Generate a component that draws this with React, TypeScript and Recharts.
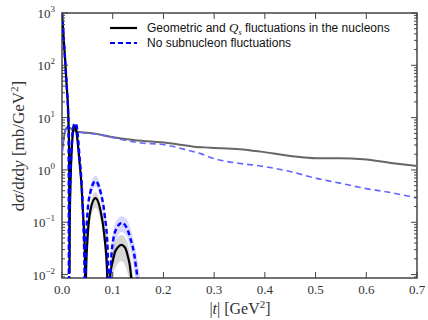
import React from 'react';
import { ComposedChart, Line, Area, XAxis, YAxis, ReferenceArea, Label } from 'recharts';

// ---- data ----
// coherent, geometric + Qs fluctuations (black solid)
const tCohGeo = [0, 0.002, 0.004, 0.006, 0.008, 0.010, 0.012, 0.013, 0.014, 0.0148, 0.0152, 0.0167, 0.0197, 0.023, 0.0252, 0.0275, 0.0295, 0.0345, 0.0384, 0.042, 0.045, 0.0465, 0.0475, 0.0506, 0.056, 0.0659, 0.0758, 0.0837, 0.089, 0.0905, 0.091, 0.0945, 0.1, 0.104, 0.11, 0.117, 0.124, 0.13, 0.135, 0.138, 0.14];
const vCohGeo = [1000, 510, 257, 133, 63, 31, 15, 7.2, 2.4, 0.011, 0.08, 0.52, 3.0, 6.3, 7.0, 6.2, 4.5, 1.44, 0.52, 0.12, 0.025, 0.003, 0.011, 0.053, 0.17, 0.29, 0.17, 0.053, 0.011, 0.002, 0.001, 0.009, 0.018, 0.026, 0.033, 0.037, 0.033, 0.022, 0.012, 0.005, 0.001];

// coherent, no subnucleon fluctuations (blue dashed)
const tCohNo = [0, 0.002, 0.004, 0.006, 0.008, 0.010, 0.012, 0.013, 0.0138, 0.0145, 0.0155, 0.0167, 0.0197, 0.023, 0.0266, 0.03, 0.0345, 0.0384, 0.042, 0.0445, 0.0452, 0.0465, 0.05, 0.056, 0.066, 0.076, 0.084, 0.09, 0.0925, 0.0935, 0.0955, 0.1, 0.1087, 0.1185, 0.127, 0.1349, 0.1447, 0.15, 0.152];
const vCohNo = [1000, 520, 262, 136, 65, 32, 13, 4, 0.001, 0.05, 0.3, 0.8, 3.8, 7.0, 7.8, 6.0, 1.8, 0.6, 0.1, 0.01, 0.001, 0.02, 0.14, 0.38, 0.61, 0.38, 0.14, 0.03, 0.001, 0.001, 0.01, 0.04, 0.08, 0.098, 0.08, 0.049, 0.017, 0.005, 0.001];

// incoherent, geometric + Qs fluctuations (gray solid)
const tIncGeo = [0, 0.004, 0.007, 0.011, 0.02, 0.03, 0.0626, 0.0955, 0.128, 0.161, 0.194, 0.227, 0.26, 0.292, 0.351, 0.391, 0.45, 0.502, 0.548, 0.594, 0.653, 0.70];
const vIncGeo = [2.1, 4.3, 5.8, 6.6, 6.0, 5.4, 5.0, 4.33, 3.86, 3.58, 3.38, 3.1, 2.79, 2.67, 2.49, 2.24, 1.85, 1.67, 1.67, 1.60, 1.34, 1.19];

// incoherent, no subnucleon fluctuations (light blue dashed)
const tIncNo = [0, 0.004, 0.009, 0.015, 0.025, 0.036, 0.063, 0.09, 0.115, 0.161, 0.194, 0.22, 0.247, 0.273, 0.3, 0.325, 0.351, 0.391, 0.45, 0.502, 0.548, 0.594, 0.647, 0.70];
const vIncNo = [2.1, 4.5, 6.2, 6.0, 5.6, 5.2, 4.9, 4.4, 3.86, 3.24, 3.1, 2.8, 2.4, 2.05, 1.65, 1.45, 1.33, 1.19, 0.93, 0.69, 0.56, 0.45, 0.37, 0.29];

// uncertainty bands
const tBandGeo = [0.047, 0.05, 0.056, 0.066, 0.076, 0.084, 0.089, 0.091, 0.092, 0.096, 0.1, 0.106, 0.117, 0.128, 0.134, 0.14, 0.144];
const lowBandGeo = [0.001, 0.03, 0.11, 0.19, 0.11, 0.03, 0.004, 0.001, 0.001, 0.004, 0.009, 0.014, 0.018, 0.012, 0.006, 0.002, 0.001];
const highBandGeo = [0.01, 0.08, 0.22, 0.38, 0.22, 0.08, 0.02, 0.003, 0.004, 0.015, 0.028, 0.044, 0.057, 0.044, 0.025, 0.009, 0.002];

const tBandNo = [0.044, 0.047, 0.05, 0.056, 0.066, 0.076, 0.084, 0.09, 0.094, 0.092, 0.096, 0.1, 0.108, 0.118, 0.127, 0.135, 0.145, 0.152, 0.158];
const lowBandNo = [0.001, 0.005, 0.08, 0.28, 0.48, 0.28, 0.08, 0.01, 0.001, 0.001, 0.004, 0.015, 0.05, 0.065, 0.055, 0.03, 0.008, 0.002, 0.001];
const highBandNo = [0.01, 0.08, 0.2, 0.5, 0.78, 0.5, 0.2, 0.06, 0.005, 0.005, 0.025, 0.06, 0.11, 0.13, 0.115, 0.075, 0.03, 0.012, 0.004];

const xTicks = [0, 0.1, 0.2, 0.3, 0.4, 0.5, 0.6, 0.7];
const xTickLabels = ['0.0', '0.1', '0.2', '0.3', '0.4', '0.5', '0.6', '0.7'];
const yMajor = [0.01, 0.1, 1, 10, 100, 1000];
const yExp = ['\u22122', '\u22121', '0', '1', '2', '3'];
const yMinorMult = [2, 3, 4, 5, 6, 7, 8, 9];
const yMinorDecades = [0.001, 0.01, 0.1, 1, 10, 100];

const Y_MIN = 0.0086;
const Y_MAX = 1000;

const legendLabels = ['Geometric and ', 'No subnucleon fluctuations'];

// ---- layout ----
const W = 428, H = 320;
const PL = 62, PR = 417, PT = 13, PB = 278;
const AXIS = '#444';
const SERIF = '"Liberation Serif", "DejaVu Serif", serif';
const SANS = '"Liberation Sans", Arial, sans-serif';

const pts = (ts: number[], vs: number[]) => ts.map((t, i) => ({ t, v: vs[i] }));
const band = (ts: number[], lo: number[], hi: number[]) => ts.map((t, i) => ({ t, r: [lo[i], hi[i]] }));

const cohGeo = pts(tCohGeo, vCohGeo);
const cohNo = pts(tCohNo, vCohNo);
const incGeo = pts(tIncGeo, vIncGeo);
const incNo = pts(tIncNo, vIncNo);
const bandGeo = band(tBandGeo, lowBandGeo, highBandGeo);
const bandNo = band(tBandNo, lowBandNo, highBandNo);

const yMinor: number[] = [];
yMinorDecades.forEach((d) => yMinorMult.forEach((m) => {
  const v = +(d * m).toPrecision(3);
  if (v > Y_MIN && v < Y_MAX) yMinor.push(v);
}));
const yTicks = [...yMajor, ...yMinor].sort((a, b) => a - b);

function YTick(props: any) {
  const { y, payload } = props;
  const idx = yMajor.indexOf(payload.value);
  const len = idx >= 0 ? 6 : 3;
  return (
    <g>
      <line x1={PL} x2={PL + len} y1={y} y2={y} stroke={AXIS} strokeWidth={1} />
      <line x1={PR - len} x2={PR} y1={y} y2={y} stroke={AXIS} strokeWidth={1} />
      {idx >= 0 && (
        <text x={PL - 7} y={y + 5} textAnchor="end" fontFamily={SERIF} fontSize={13} fill="#333">
          10<tspan dy={-6} fontSize={9}>{yExp[idx]}</tspan>
        </text>
      )}
    </g>
  );
}

function XTick(props: any) {
  const { x, payload } = props;
  const idx = xTicks.indexOf(payload.value);
  return (
    <g>
      <line x1={x} x2={x} y1={PB} y2={PB - 6} stroke={AXIS} strokeWidth={1} />
      <line x1={x} x2={x} y1={PT} y2={PT + 6} stroke={AXIS} strokeWidth={1} />
      <text x={x} y={PB + 16} textAnchor="middle" fontFamily={SERIF} fontSize={13} fill="#333">
        {xTickLabels[idx]}
      </text>
    </g>
  );
}

function LegendBox() {
  return (
    <g transform="translate(108,20)">
      <line x1={2} x2={29} y1={8} y2={8} stroke="#000" strokeWidth={2.2} />
      <text x={39} y={12} fontFamily={SANS} fontSize={12} fill="#111">
        {legendLabels[0]}
        <tspan fontFamily={SERIF} fontStyle="italic" fontSize={13}>Q</tspan>
        <tspan fontFamily={SERIF} fontStyle="italic" fontSize={8} dy={3}>s</tspan>
        <tspan dy={-3}> fluctuations in the nucleons</tspan>
      </text>
      <line x1={2} x2={29} y1={23} y2={23} stroke="#0000ff" strokeWidth={2.2} strokeDasharray="5 3" />
      <text x={39} y={27} fontFamily={SANS} fontSize={12} fill="#111">{legendLabels[1]}</text>
    </g>
  );
}

function YLabelAndLegend() {
  return (
    <g>
      <text transform={`translate(24,146) rotate(-90)`} textAnchor="middle" fontFamily={SERIF} fontSize={17} fill="#333">
        d<tspan fontStyle="italic">σ</tspan>/d<tspan fontStyle="italic">t</tspan>d<tspan fontStyle="italic">y</tspan> [mb/GeV<tspan dy={-6} fontSize={11}>2</tspan><tspan dy={6}>]</tspan>
      </text>
      <LegendBox />
    </g>
  );
}

function XLabel() {
  return (
    <text x={240} y={314} textAnchor="middle" fontFamily={SERIF} fontSize={16} fill="#333">
      |<tspan fontStyle="italic">t</tspan>| [GeV<tspan dy={-6} fontSize={11}>2</tspan><tspan dy={6}>]</tspan>
    </text>
  );
}

export default function App() {
  return (
    <div style={{ position: 'absolute', left: 0, top: 0, width: W, height: H, background: '#fff' }}>
      <ComposedChart width={W} height={H} margin={{ top: PT, right: W - PR, bottom: 0, left: 0 }}>
        <XAxis
          type="number"
          dataKey="t"
          domain={[0, 0.7]}
          ticks={xTicks}
          interval={0}
          allowDataOverflow
          height={H - PB}
          axisLine={false}
          tickLine={false}
          tick={<XTick />}
        >
          <Label content={<XLabel />} />
        </XAxis>
        <YAxis
          type="number"
          scale="log"
          domain={[Y_MIN, Y_MAX]}
          ticks={yTicks}
          interval={0}
          allowDataOverflow
          width={PL}
          axisLine={false}
          tickLine={false}
          tick={<YTick />}
        >
          <Label content={<YLabelAndLegend />} />
        </YAxis>
        <Area data={bandGeo} dataKey="r" type="monotone" stroke="none" fill="#9a9a9a" fillOpacity={0.4} isAnimationActive={false} />
        <Area data={bandNo} dataKey="r" type="monotone" stroke="none" fill="#4a4aff" fillOpacity={0.22} isAnimationActive={false} />
        <Line data={incGeo} dataKey="v" type="monotone" stroke="#666" strokeWidth={2} dot={false} isAnimationActive={false} />
        <Line data={incNo} dataKey="v" type="monotone" stroke="#6464ff" strokeWidth={1.6} strokeDasharray="6 4" dot={false} isAnimationActive={false} />
        <Line data={cohGeo} dataKey="v" type="monotone" stroke="#000" strokeWidth={2.2} dot={false} isAnimationActive={false} />
        <Line data={cohNo} dataKey="v" type="monotone" stroke="#0000ff" strokeWidth={2.4} strokeDasharray="5 3" dot={false} isAnimationActive={false} />
        <ReferenceArea x1={0} x2={0.7} y1={Y_MIN} y2={Y_MAX} fill="none" stroke={AXIS} strokeWidth={1.5} ifOverflow="visible" />
      </ComposedChart>
    </div>
  );
}
